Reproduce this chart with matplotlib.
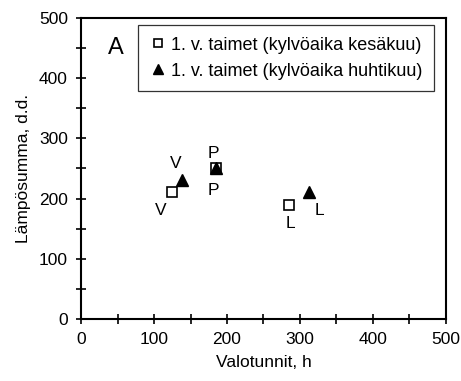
import matplotlib.pyplot as plt
from matplotlib.ticker import MultipleLocator

plt.rcParams['font.family'] = ['Liberation Sans', 'DejaVu Sans']

# kesäkuu sowing (open squares)
kesa_x = [125, 185, 285]
kesa_y = [210, 250, 190]
# huhtikuu sowing (filled triangles)
huhti_x = [138, 185, 313]
huhti_y = [230, 250, 210]

# point labels with offsets in points
kesa_labels = ['V', 'P', 'L']
kesa_offsets = [(-8, -13), (-2, -16), (1, -14)]
huhti_labels = ['V', 'P', 'L']
huhti_offsets = [(-4, 12), (-2, 11), (7, -13)]

fs = 12.5

fig = plt.figure(figsize=(4.61, 3.81), dpi=100)
ax = fig.add_axes([0.176, 0.163, 0.791, 0.79])

ax.plot(kesa_x, kesa_y, 's', markersize=7, markerfacecolor='white',
        markeredgecolor='black', markeredgewidth=1.2, linestyle='none',
        label='1. v. taimet (kylvöaika kesäkuu)')
ax.plot(huhti_x, huhti_y, '^', markersize=8, color='black', linestyle='none',
        label='1. v. taimet (kylvöaika huhtikuu)')

for x, y, t, off in zip(kesa_x, kesa_y, kesa_labels, kesa_offsets):
    ax.annotate(t, (x, y), xytext=off, textcoords='offset points',
                ha='center', va='center', fontsize=fs)
for x, y, t, off in zip(huhti_x, huhti_y, huhti_labels, huhti_offsets):
    ax.annotate(t, (x, y), xytext=off, textcoords='offset points',
                ha='center', va='center', fontsize=fs)

ax.text(47, 450, 'A', fontsize=17, ha='center', va='center')

ax.set_xlim(0, 500)
ax.set_ylim(0, 500)
ax.xaxis.set_major_locator(MultipleLocator(100))
ax.xaxis.set_minor_locator(MultipleLocator(50))
ax.yaxis.set_major_locator(MultipleLocator(100))
ax.yaxis.set_minor_locator(MultipleLocator(50))
ax.tick_params(which='both', direction='inout', length=7, width=1.2,
               labelsize=fs, pad=6)
for s in ax.spines.values():
    s.set_linewidth(1.5)

ax.set_xlabel('Valotunnit, h', fontsize=fs, labelpad=6)
ax.set_ylabel('Lämpösumma, d.d.', fontsize=fs, labelpad=6)

leg = ax.legend(loc='upper right', bbox_to_anchor=(0.968, 0.977), fontsize=13,
                frameon=True, fancybox=False, handlelength=1.0, markerscale=0.85,
                handletextpad=0.2, borderpad=0.65, labelspacing=0.5,
                borderaxespad=0)
leg.get_frame().set_edgecolor('black')
leg.get_frame().set_linewidth(0.9)

fig.savefig('out.png', dpi=100)
